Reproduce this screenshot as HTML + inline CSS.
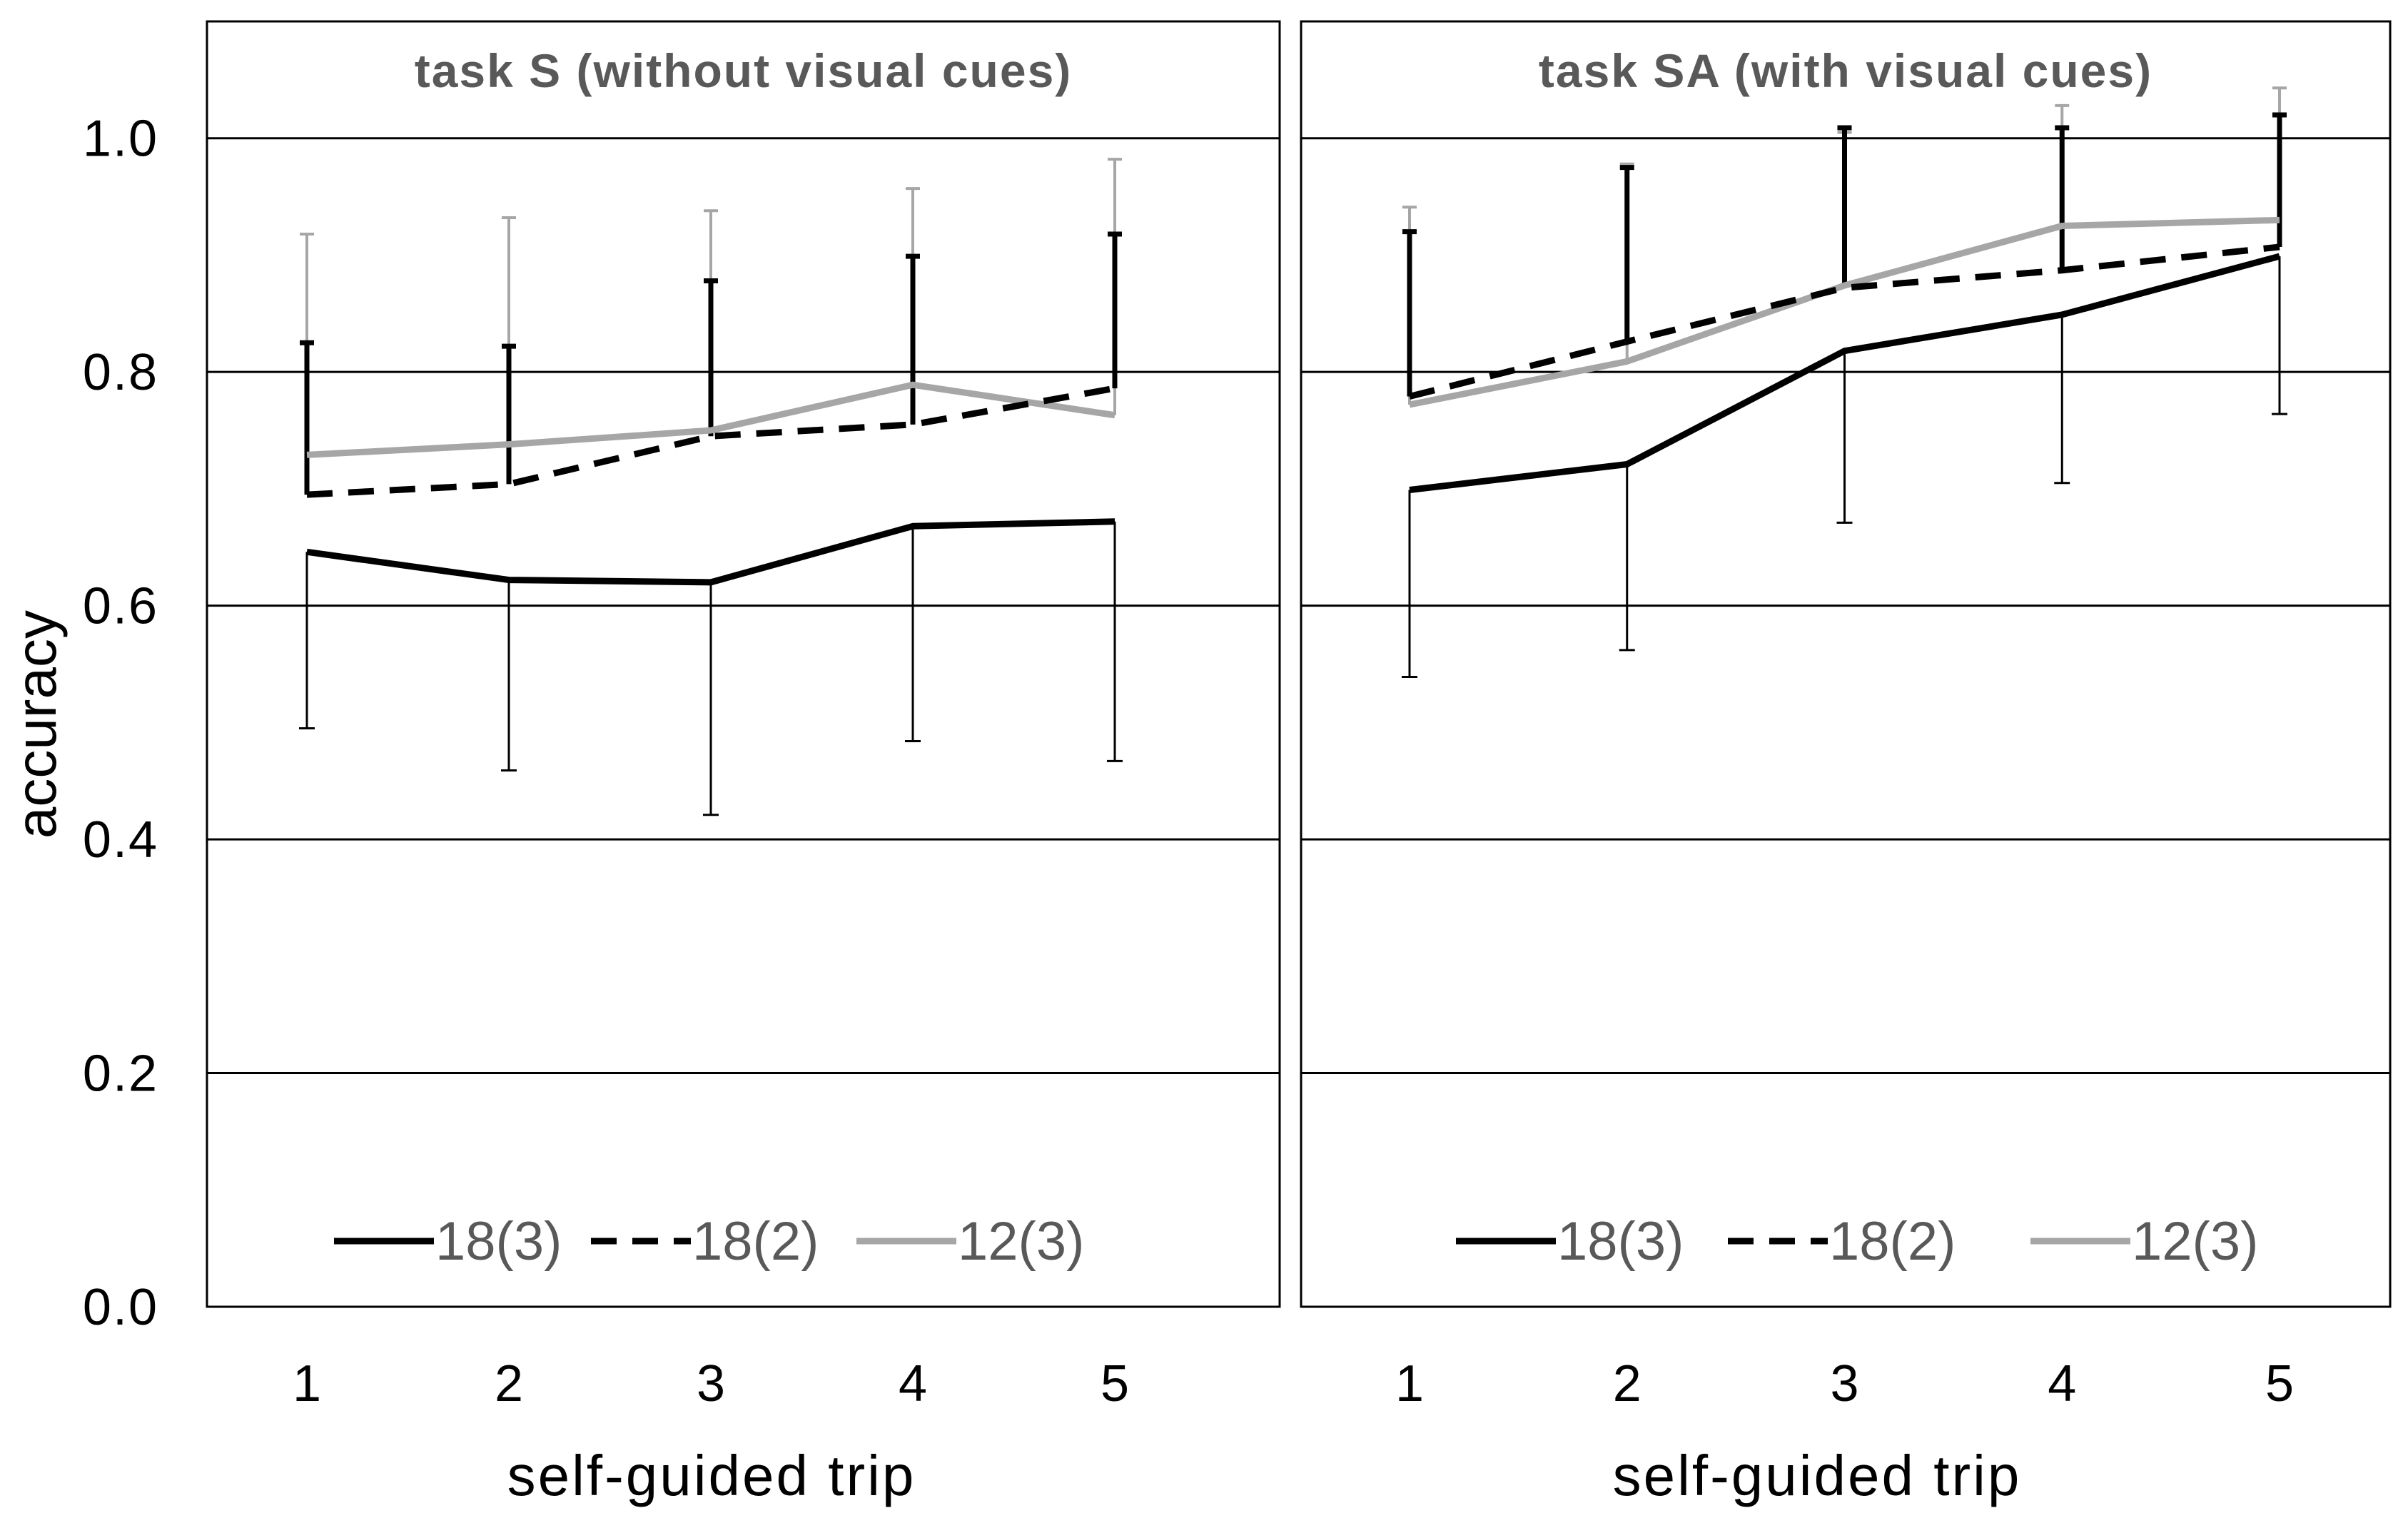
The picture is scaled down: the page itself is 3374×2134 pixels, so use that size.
<!DOCTYPE html>
<html><head><meta charset="utf-8"><style>
html,body{margin:0;padding:0;background:#fff;}
svg{display:block;font-family:"Liberation Sans","DejaVu Sans",sans-serif;}
</style></head><body>
<svg id="chart" width="3374" height="2134" viewBox="0 0 3374 2134"></svg>
<script>
const trips = [1,2,3,4,5];
const yTicks = [0,0.2,0.4,0.6,0.8,1.0];
const yTickLabels = ["0.0","0.2","0.4","0.6","0.8","1.0"];
const seriesNames = ["18(3)","18(2)","12(3)"];
// Task S
const sSolid = [0.646,0.622,0.620,0.668,0.672];
const sSolidLow = [0.495,0.459,0.421,0.484,0.467];
const sDashed = [0.695,0.704,0.745,0.755,0.786];
const sDashedHigh = [0.825,0.822,0.878,0.899,0.918];
const sGray = [0.729,0.738,0.750,0.789,0.763];
const sGrayHigh = [0.918,0.932,0.938,0.957,0.982];
// Task SA
const saSolid = [0.699,0.721,0.818,0.849,0.899];
const saSolidLow = [0.539,0.562,0.671,0.705,0.764];
const saDashed = [0.779,0.826,0.872,0.887,0.907];
const saDashedHigh = [0.920,0.975,1.009,1.009,1.020];
const saGray = [0.772,0.809,0.874,0.925,0.930];
const saGrayHigh = [0.941,0.978,1.005,1.028,1.043];

const NS="http://www.w3.org/2000/svg";
const svg=document.getElementById('chart');
function mk(tag,attrs,parent){const e=document.createElementNS(NS,tag);for(const k in attrs)e.setAttribute(k,attrs[k]);(parent||svg).appendChild(e);return e;}
const yTop=30,yBot=1831,y0=1831,yPer=(1831-193.7);
function Y(v){return y0-v*yPer;}

const panels=[
 {key:'task-s',title:'task S (without visual cues)',x0:290,x1:1793,t1:430,t5:1562,
  solid:sSolid,solidLow:sSolidLow,dashed:sDashed,dashedHigh:sDashedHigh,gray:sGray,grayHigh:sGrayHigh,
  leg:[[468,610],[828,978],[1200,1350]],xlab:997},
 {key:'task-sa',title:'task SA (with visual cues)',x0:1823,x1:3349,t1:1975,t5:3194,
  solid:saSolid,solidLow:saSolidLow,dashed:saDashed,dashedHigh:saDashedHigh,gray:saGray,grayHigh:saGrayHigh,
  leg:[[2040,2187],[2421,2565],[2845,2992]],xlab:2546}
];

panels.forEach(p=>{
  const g=mk('g',{});
  
  
  const X=i=>p.t1+(p.t5-p.t1)*(trips[i]-1)/(trips.length-1);
  yTicks.forEach((v,i)=>{ if(v>0){const l=mk('line',{x1:p.x0,x2:p.x1,y1:Y(v),y2:Y(v),stroke:'#000','stroke-width':3},g);
    
    }});
  const box=mk('rect',{x:p.x0,y:yTop,width:p.x1-p.x0,height:yBot-yTop,fill:'none',stroke:'#000','stroke-width':3},g);
  
  
  const t=mk('text',{x:(p.x0+p.x1)/2,y:122,'text-anchor':'middle','font-size':66,'font-weight':'bold',fill:'#595959','letter-spacing':2},g);
  t.textContent=p.title;
  
  
  trips.forEach((tr,i)=>{const tx=mk('text',{x:X(i),y:1963,'text-anchor':'middle','font-size':72,fill:'#000'},g);
    tx.textContent=tr;
    
    });
  const xl=mk('text',{x:p.xlab,y:2095,'text-anchor':'middle','font-size':80,fill:'#000','letter-spacing':3},g);
  xl.textContent='self-guided trip';
  
  
  function ebar(vals,ends,color,w,capw,name){
    vals.forEach((v,i)=>{const x=X(i);
      const b=mk('path',{d:`M${x},${Y(v)}L${x},${Y(ends[i])}M${x-capw},${Y(ends[i])}L${x+capw},${Y(ends[i])}`,stroke:color,'stroke-width':w,fill:'none'},g);
      
      });
  }
  ebar(p.gray,p.grayHigh,'#a6a6a6',4,10,'12-3');
  ebar(p.dashed,p.dashedHigh,'#000',7,10,'18-2');
  ebar(p.solid,p.solidLow,'#000',3,11,'18-3');
  function line(vals,color,dash,name){
    const d=vals.map((v,i)=>(i?'L':'M')+X(i)+','+Y(v)).join('');
    const a={d:d,stroke:color,'stroke-width':9,fill:'none','stroke-linejoin':'round'};
    if(dash)a['stroke-dasharray']=dash;
    const l=mk('path',a,g);
    
    
  }
  line(p.gray,'#a6a6a6',null,'line-12-3');
  line(p.dashed,'#000','36,22','line-18-2');
  line(p.solid,'#000',null,'line-18-3');
  const styles=[['#000',null],['#000','36,22'],['#a6a6a6',null]];
  p.leg.forEach((lg,i)=>{
    const e=mk('g',{},g);
    
    
    const a={x1:lg[0],x2:lg[0]+140,y1:1739,y2:1739,stroke:styles[i][0],'stroke-width':9};
    if(styles[i][1])a['stroke-dasharray']=styles[i][1];
    mk('line',a,e);
    const tx=mk('text',{x:lg[0]+142,y:1765,'font-size':76,fill:'#595959'},e);
    tx.textContent=seriesNames[i];
  });
});
yTicks.forEach((v,i)=>{const t=mk('text',{x:222,y:Y(v)+25,'text-anchor':'end','font-size':72,fill:'#000','letter-spacing':2});
  t.textContent=yTickLabels[i];
  
  });
const yl=mk('text',{x:0,y:0,'text-anchor':'middle','font-size':80,fill:'#000',transform:'translate(78,1015) rotate(-90)'});
yl.textContent='accuracy';


</script>
</body></html>
